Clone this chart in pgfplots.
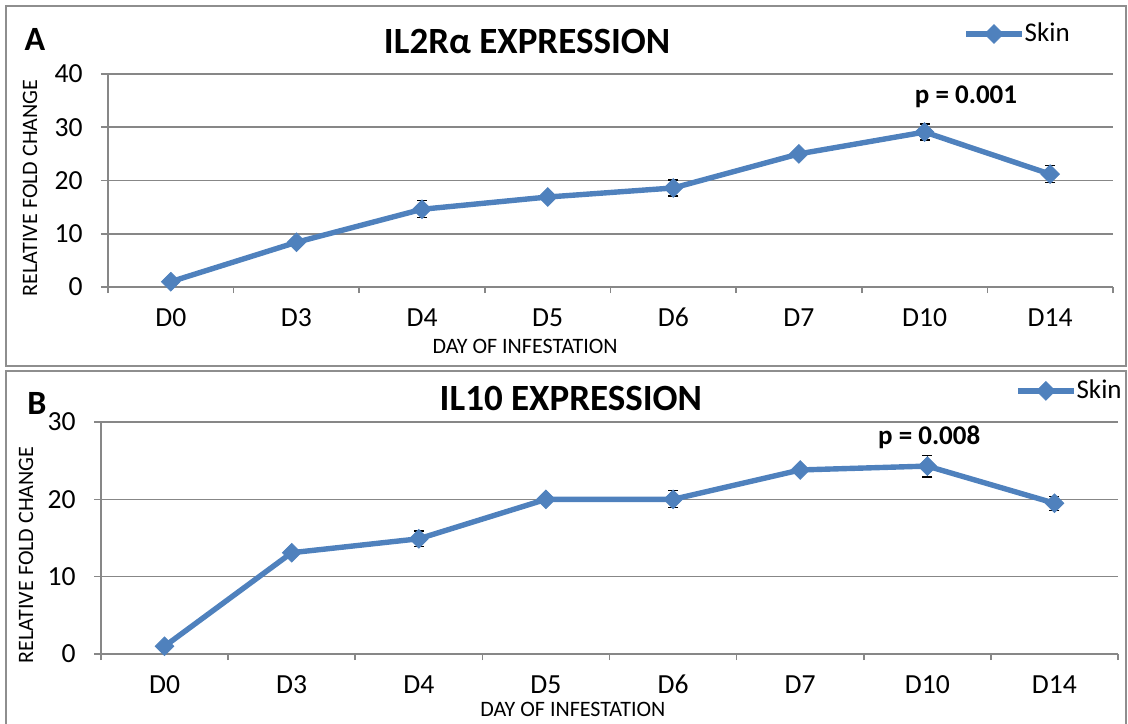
\documentclass[border=0pt]{standalone}
\usepackage{fontspec}
\setmainfont{Carlito}
\usepackage{pgfplots}
\usepackage{pgfplotstable}
\pgfplotsset{compat=1.18}

\definecolor{skinblue}{HTML}{4F81BD}
\definecolor{gridgray}{HTML}{878787}
\definecolor{framegray}{HTML}{8E8E8E}

% relative fold change (mean and error) per day of infestation
\pgfplotstableread{
idx val err
0 1.0 0.2
1 8.4 0.4
2 14.6 1.6
3 16.9 0.6
4 18.6 1.5
5 25.0 0.5
6 29.1 1.5
7 21.2 1.6
}\iltworadata

\pgfplotstableread{
idx val err
0 1.0 0.2
1 13.1 0.4
2 14.9 1.0
3 20.0 0.5
4 20.0 1.1
5 23.8 0.4
6 24.3 1.4
7 19.5 0.9
}\iltendata

\pgfplotsset{
  skinline/.style={
    skinblue, line width=2.7pt,
    mark=square*, mark size=3.3pt,
    mark options={rotate=45, fill=skinblue, draw=skinblue, line width=0.4pt},
  },
  skinerr/.style={
    error bars/y dir=both, error bars/y explicit,
    error bars/error bar style={black, line width=0.6pt},
    error bars/error mark options={black, mark size=2.5pt, line width=0.6pt, rotate=90},
  },
  panel/.style={
    scale only axis,
    xmin=-0.5, xmax=7.5,
    ymin=0,
    xtick={0,...,7},
    xticklabels={D0,D3,D4,D5,D6,D7,D10,D14},
    minor xtick={-0.5,0.5,...,7.5},
    axis x line*=bottom,
    axis y line*=left,
    axis line style={-, gridgray, line width=0.8pt},
    tick align=outside,
    major tick length=3.5pt,
    minor tick length=3pt,
    major x tick style={draw=none},
    minor x tick style={gridgray, line width=0.8pt},
    major y tick style={gridgray, line width=0.8pt},
    ymajorgrids,
    grid style={gridgray, line width=0.8pt},
    /pgf/number format/assume math mode=true,
    tick label style={font=\fontsize{13.8}{16}\selectfont},
    yticklabel style={anchor=east, inner sep=0pt, xshift=-9pt},
    xticklabel style={anchor=base, inner sep=0pt, yshift=-16.4pt},
    label style={font=\fontsize{11}{13}\selectfont},
    title style={font=\bfseries\fontsize{18.5}{22}\selectfont, anchor=center},
    legend style={draw=none, fill=none, inner sep=0pt, anchor=west,
      font=\fontsize{13.5}{15}\selectfont,
      nodes={inner sep=0pt}},
    legend image code/.code={%
      \draw[#1, mark repeat=2, mark phase=2]
        plot coordinates {(0pt,0pt) (14pt,0pt) (28pt,0pt)};},
  },
}

\begin{document}
\begin{tikzpicture}
\useasboundingbox (0pt,0pt) rectangle (564pt,-361.5pt);

% panel frames
\draw[framegray, line width=1pt] (3pt,-3pt) rectangle (563.2pt,-183pt);
\draw[framegray, line width=1pt] (3pt,-185.5pt) rectangle (563.2pt,-364pt);

% panel A: IL2R alpha
\begin{axis}[panel,
  at={(54pt,-143.5pt)}, anchor=south west,
  width=502.5pt, height=106.5pt,
  ymax=40, ytick={0,10,20,30,40},
  title={IL2Rα EXPRESSION},
  title style={at={(0.417,1.094)}},
  xlabel={DAY OF INFESTATION},
  xlabel style={at={(axis description cs:0.415,-0.277)}, anchor=center},
  ylabel={RELATIVE FOLD CHANGE},
  ylabel style={at={(axis description cs:-0.0776,0.465)}, anchor=center},
  legend style={at={(axis description cs:0.8507,1.188)}},
]
\addplot[skinline, skinerr] table[x=idx, y=val, y error=err] {\iltworadata};
\addlegendentry{Skin}
\node[font=\bfseries\fontsize{13.5}{15}\selectfont] at (axis cs:6.33,35.7) {p = 0.001};
\end{axis}

% panel B: IL10
\begin{axis}[panel,
  at={(50.5pt,-327pt)}, anchor=south west,
  width=508.5pt, height=116pt,
  ymax=30, ytick={0,10,20,30},
  title={IL10 EXPRESSION},
  title style={at={(0.462,1.051)}},
  xlabel={DAY OF INFESTATION},
  xlabel style={at={(axis description cs:0.464,-0.241)}, anchor=center},
  ylabel={RELATIVE FOLD CHANGE},
  ylabel style={at={(axis description cs:-0.0737,0.427)}, anchor=center},
  legend style={at={(axis description cs:0.8985,1.134)}},
]
\addplot[skinline, skinerr] table[x=idx, y=val, y error=err] {\iltendata};
\addlegendentry{Skin}
\node[font=\bfseries\fontsize{13.5}{15}\selectfont] at (axis cs:6.015,28.06) {p = 0.008};
\end{axis}

% panel letters
\node[font=\bfseries\fontsize{17}{20}\selectfont] at (17.5pt,-19.8pt) {A};
\node[font=\bfseries\fontsize{17}{20}\selectfont] at (18.5pt,-201.5pt) {B};
\end{tikzpicture}
\end{document}
